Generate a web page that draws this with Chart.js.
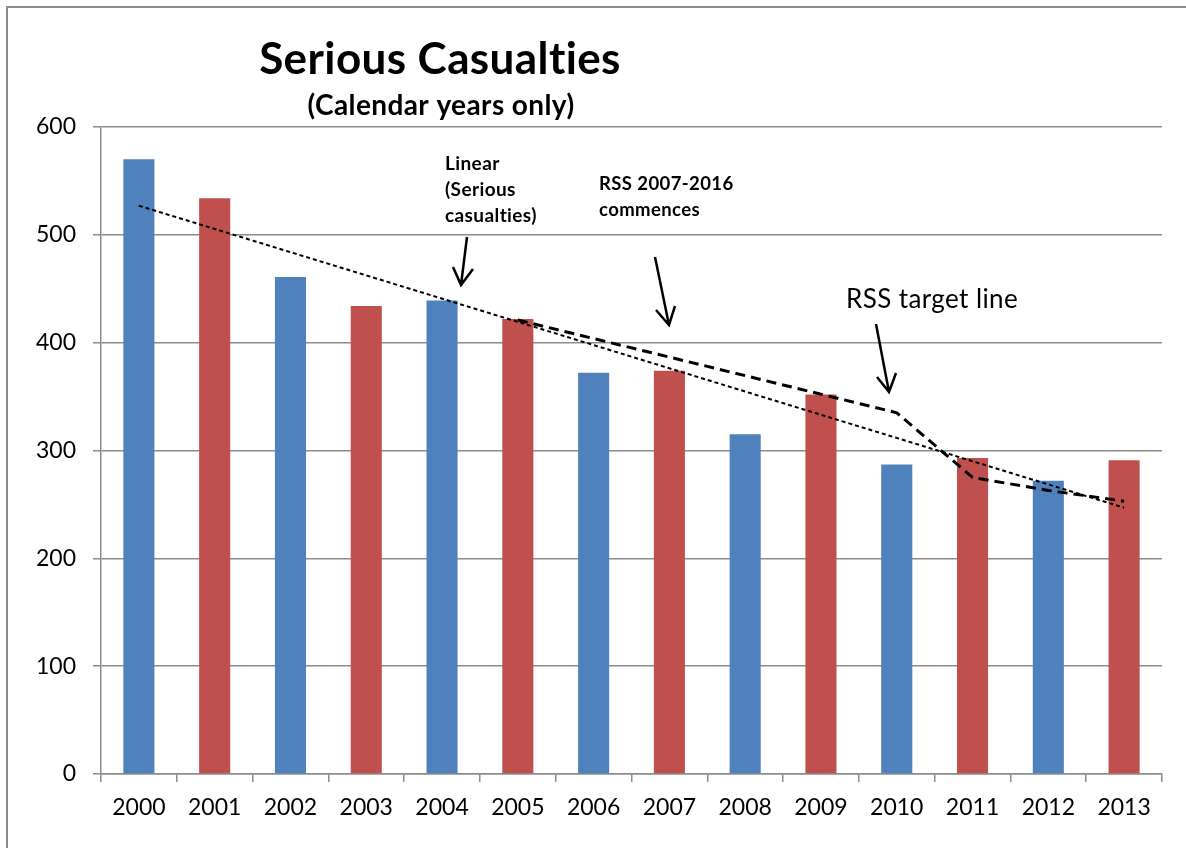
<!DOCTYPE html>
<html>
<head>
<meta charset="utf-8">
<script src="https://cdn.jsdelivr.net/npm/chart.js@4/dist/chart.umd.min.js"></script>
<style>
  html, body { margin: 0; padding: 0; background: #fff; }
  #wrap { width: 1186px; height: 848px; position: relative; }
</style>
</head>
<body>
<div id="wrap"><canvas id="casualtyChart"></canvas></div>
<script>
const years = ["2000", "2001", "2002", "2003", "2004", "2005", "2006",
  "2007", "2008", "2009", "2010", "2011", "2012", "2013"];
const seriousCasualties = [570, 534, 461, 434, 439, 422, 372, 374, 315, 352, 287, 293, 272, 291];
// linear trend, only the two end points
const trendLine = [527, null, null, null, null, null, null, null, null, null, null, null, null, 247];
// RSS 2007-2016 target path
const rssTarget = [null, null, null, null, null, 421, null, null, null, null, 335, 275, 263, 253];
const yTicks = [0, 100, 200, 300, 400, 500, 600];

const blue = "#4F81BD";
const red = "#C0504D";
const gridGrey = "#8c8c8c";
const FONT = "Lato, 'Open Sans', sans-serif";

// arrows and notes on the plot
const notesPlugin = {
  id: "notes",
  afterDraw(chart) {
    const ctx = chart.ctx;
    ctx.save();

    // frame left/top edge
    ctx.strokeStyle = "#8c8c8c";
    ctx.lineWidth = 2;
    ctx.beginPath();
    ctx.moveTo(7, 848);
    ctx.lineTo(7, 7);
    ctx.lineTo(1186, 7);
    ctx.stroke();

    // small spacing keeps the "ti" pairs apart
    ctx.letterSpacing = "0.4px";
    ctx.fillStyle = "#000";
    ctx.textAlign = "center";
    ctx.textBaseline = "middle";
    ctx.font = "bold 44px " + FONT;
    ctx.fillText("Serious Casualties", 440, 60);
    ctx.font = "bold 28px " + FONT;
    ctx.fillText("(Calendar years only)", 441, 106);

    ctx.textAlign = "left";
    ctx.font = "bold 19px " + FONT;
    ctx.fillText("Linear", 445, 164);
    ctx.fillText("(Serious", 445, 190);
    ctx.fillText("casualties)", 445, 216);
    ctx.font = "bold 18.5px " + FONT;
    ctx.fillText("RSS 2007-2016", 599, 184);
    ctx.fillText("commences", 599, 210);
    ctx.font = "26px " + FONT;
    ctx.fillText("RSS target line", 846, 300);

    const arrow = (x1, y1, x2, y2, lx, ly, rx, ry) => {
      ctx.strokeStyle = "#000";
      ctx.lineWidth = 2.5;
      ctx.beginPath();
      ctx.moveTo(x1, y1);
      ctx.lineTo(x2, y2);
      ctx.moveTo(lx, ly);
      ctx.lineTo(x2, y2);
      ctx.lineTo(rx, ry);
      ctx.stroke();
    };
    arrow(467, 237, 461, 285, 453, 267, 473, 269);
    arrow(655, 257, 669, 325, 656, 310, 675, 306);
    arrow(876, 324, 889, 392, 877, 377, 896, 373);

    ctx.restore();
  }
};

const ctx = document.getElementById("casualtyChart").getContext("2d");

const casualtyChart = new Chart(ctx, {
  type: "bar",
  data: {
    labels: years,
    datasets: [
      {
        type: "line",
        label: "Linear (Serious casualties)",
        data: trendLine,
        spanGaps: true,
        borderColor: "#000",
        borderWidth: 2,
        borderDash: [4, 3],
        pointRadius: 0,
        fill: false,
        order: 1,
      },
      {
        type: "line",
        label: "RSS target line",
        data: rssTarget,
        spanGaps: true,
        borderColor: "#000",
        borderWidth: 3,
        borderDash: [10, 6],
        pointRadius: 0,
        tension: 0,
        fill: false,
        order: 1,
      },
      {
        label: "Serious casualties",
        data: seriousCasualties,
        backgroundColor: years.map((y, i) => (i % 2 === 0 ? blue : red)),
        barPercentage: 0.41,
        categoryPercentage: 1,
        order: 2,
      },
    ],
  },
  plugins: [notesPlugin],
  options: {
    responsive: true,
    maintainAspectRatio: false,
    animation: false,
    layout: { padding: { top: 127, right: 24, left: 0, bottom: 0 } },
    plugins: {
      legend: { display: false },
      tooltip: { enabled: false },
    },
    scales: {
      x: {
        grid: {
          display: true,
          drawOnChartArea: false,
          drawTicks: true,
          tickLength: 8,
          color: gridGrey,
          lineWidth: 1.5,
        },
        border: { color: gridGrey, width: 1.5 },
        ticks: {
          color: "#000",
          font: { family: FONT, size: 23 },
          padding: 12,
          maxRotation: 0,
        },
        afterFit(scale) { scale.height = 74; },
      },
      y: {
        min: 0,
        max: 600,
        afterBuildTicks(scale) { scale.ticks = yTicks.map((v) => ({ value: v })); },
        grid: {
          color: gridGrey,
          lineWidth: 1.5,
          drawTicks: true,
          tickLength: 8,
        },
        border: { color: gridGrey, width: 1.5 },
        ticks: {
          color: "#000",
          font: { family: FONT, size: 23 },
          padding: 17,
        },
        afterFit(scale) { scale.width = 101; },
      },
    },
  },
});
</script>
</body>
</html>
